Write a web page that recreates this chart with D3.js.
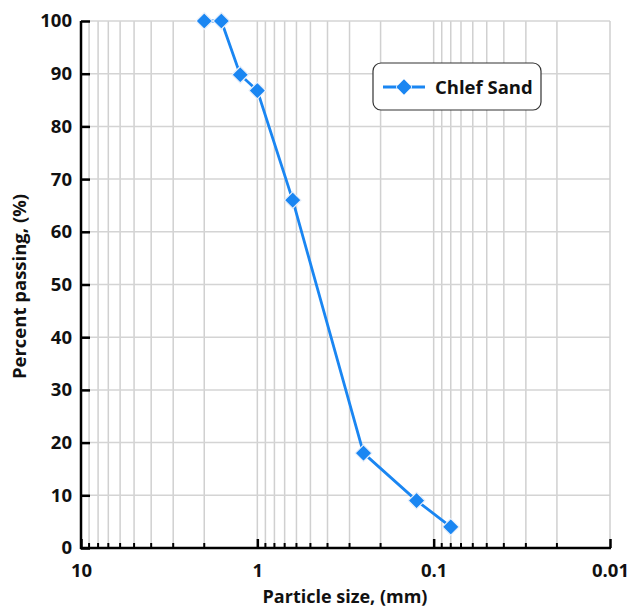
<!DOCTYPE html>
<html><head><meta charset="utf-8">
<script src="https://cdn.jsdelivr.net/npm/d3@7"></script>
<style>body{margin:0;background:#fff;} text{font-family:"Open Sans","Liberation Sans",sans-serif;font-weight:bold;}</style>
</head><body>
<script>
const sizes = [2.0, 1.6, 1.25, 1.0, 0.63, 0.25, 0.125, 0.08];
const passing = [100, 100, 89.8, 86.8, 66, 18, 9, 4];
const yTicks = [0,10,20,30,40,50,60,70,80,90,100];
const xMajor = [10, 1, 0.1, 0.01];
const xLabels = ["10", "1", "0.1", "0.01"];
const seriesName = "Chlef Sand";

const W = 629, H = 610;
const m = {l:81, r:19, t:21, b:62};
const svg = d3.select("body").append("svg").attr("width", W).attr("height", H);
const x = d3.scaleLog().domain([10, 0.01]).range([m.l, W - m.r]);
const y = d3.scaleLinear().domain([0, 100]).range([H - m.b, m.t]);

const minor = [];
[1, 0.1, 0.01].forEach(d => { for (let k = 1; k <= 9; k++) minor.push(d * k); });
const gridX = minor.filter(v => v <= 10 && v >= 0.01);

const g = svg.append("g");
g.selectAll(".vg").data(gridX.filter(v => v < 10 && v > 0.01)).join("line")
  .attr("x1", d => x(d)).attr("x2", d => x(d)).attr("y1", y(0)).attr("y2", y(100))
  .attr("stroke", "#d0d0d0").attr("stroke-width", 1.5);
g.selectAll(".hg").data(yTicks.filter(v => v > 0)).join("line")
  .attr("x1", x(10)).attr("x2", x(0.01)).attr("y1", d => y(d)).attr("y2", d => y(d))
  .attr("stroke", "#d4d4d4").attr("stroke-width", 1.5);
g.append("line").attr("x1", x(0.01)).attr("x2", x(0.01)).attr("y1", y(0)).attr("y2", y(100))
  .attr("stroke", "#cfcfcf").attr("stroke-width", 1.5);

const yAxis = d3.axisLeft(y).tickValues(yTicks).tickSize(-9).tickPadding(9).tickFormat(d3.format("d"));
const ya = svg.append("g").attr("transform", `translate(${m.l},0)`).call(yAxis);
ya.select(".domain").attr("stroke", "#000").attr("stroke-width", 2.5).attr("d", `M0,${y(0)+1}V${y(100)}`);
ya.selectAll(".tick line").attr("stroke", "#000").attr("stroke-width", 2.5);
ya.selectAll("text").attr("font-size", 18.5).attr("fill", "#111").style("font-family", "'Open Sans',sans-serif").style("font-weight", "bold");

const xAxis = d3.axisBottom(x).tickValues(xMajor).tickSize(-9).tickPadding(16).tickFormat((d, i) => xLabels[i]);
const xa = svg.append("g").attr("transform", `translate(0,${y(0)})`).call(xAxis);
xa.select(".domain").attr("stroke", "#000").attr("stroke-width", 2.5).attr("d", `M${m.l-1},0H${x(0.01)+1}`);
xa.selectAll(".tick line").attr("stroke", "#000").attr("stroke-width", 2.5);
xa.selectAll("text").attr("font-size", 18.5).attr("fill", "#111").attr("dy", "0.71em").style("font-family", "'Open Sans',sans-serif").style("font-weight", "bold");
xa.selectAll(".mt").data(gridX.filter(v => xMajor.indexOf(v) < 0 && v < 10)).join("line")
  .attr("x1", d => x(d)).attr("x2", d => x(d)).attr("y1", 0).attr("y2", -5)
  .attr("stroke", "#000").attr("stroke-width", 2);

const pts = sizes.map((s, i) => [s, passing[i]]);
svg.append("path").datum(pts)
  .attr("d", d3.line().x(d => x(d[0])).y(d => y(d[1])))
  .attr("fill", "none").attr("stroke", "#1a86f2").attr("stroke-width", 2.8);
const diamond = d3.symbol().type(d3.symbolDiamond2).size(175);
svg.selectAll(".pt").data(pts).join("path")
  .attr("transform", d => `translate(${x(d[0])},${y(d[1])})`)
  .attr("d", diamond).attr("fill", "#1a86f2").attr("stroke", "#e6eefa").attr("stroke-width", 1.2);

const lg = svg.append("g").attr("transform", "translate(373,63)");
lg.append("rect").attr("width", 168).attr("height", 47).attr("rx", 8).attr("fill", "#fff")
  .attr("stroke", "#333").attr("stroke-width", 1.2);
lg.append("line").attr("x1", 10).attr("x2", 52).attr("y1", 24).attr("y2", 24)
  .attr("stroke", "#1a86f2").attr("stroke-width", 2.8);
lg.append("line").attr("x1", 23).attr("x2", 39).attr("y1", 24).attr("y2", 24)
  .attr("stroke", "#fff").attr("stroke-width", 3);
lg.append("path").attr("transform", "translate(31,24)").attr("d", d3.symbol().type(d3.symbolDiamond2).size(150))
  .attr("fill", "#1a86f2");
lg.append("text").attr("x", 62).attr("y", 30.5).attr("font-size", 18.5).attr("fill", "#111").text(seriesName);

svg.append("text").attr("x", 345).attr("y", 603).attr("text-anchor", "middle")
  .attr("font-size", 18).attr("fill", "#111").text("Particle size, (mm)");
svg.append("text").attr("transform", `translate(26,${(y(0)+y(100))/2 + 2}) rotate(-90)`).attr("text-anchor", "middle")
  .attr("font-size", 18.5).attr("fill", "#111").text("Percent passing, (%)");
</script>
</body></html>
